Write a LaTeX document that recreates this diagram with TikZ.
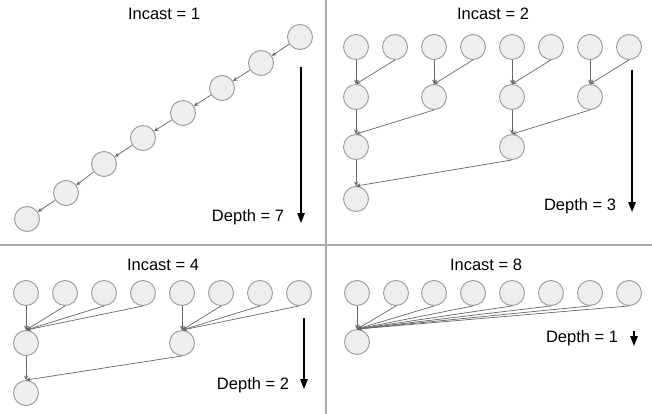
\documentclass[tikz,border=0pt]{standalone}
\usepackage{fontspec}
\setmainfont{Liberation Sans}
\usepackage{xcolor}
\usetikzlibrary{arrows.meta,positioning}

\definecolor{nodefill}{HTML}{EEEEEE}
\definecolor{nodeline}{HTML}{999999}
\definecolor{edgeline}{HTML}{666666}
\definecolor{divline}{HTML}{AAAAAA}

\begin{document}
\begin{tikzpicture}[
      x=1pt, y=-1pt,
      host/.style={circle, draw=nodeline, fill=nodefill, line width=0.9pt,
                   minimum size=25pt, inner sep=0pt},
      edge/.style={-{Stealth[length=4.5pt,width=4pt]}, draw=edgeline, line width=0.7pt},
      depth/.style={-{Triangle[length=10pt,width=7.5pt]}, line width=1.4pt},
      label/.style={font=\fontsize{16.5}{19}\selectfont, inner sep=0pt},
      divider/.style={draw=divline, line width=1.2pt},
    ]
    \useasboundingbox (0,0) rectangle (652,414);

    % quadrant dividers
    \coordinate (vtop) at (326,0);
    \coordinate (vbot) at (326,414);
    \coordinate (hleft) at (0,245);
    \coordinate (hright) at (652,245);
    \draw[divider] (vtop) -- (vbot);
    \draw[divider] (hleft) -- (hright);

    % incast = 1
    \node[label] (title1) at (164,14) {Incast = 1};
    \node[host] (c1) at (300,37) {};
    \node[host] (c2) at (261,63) {};
    \node[host] (c3) at (222,88) {};
    \node[host] (c4) at (183,113) {};
    \node[host] (c5) at (143,138) {};
    \node[host] (c6) at (104,164) {};
    \node[host] (c7) at (66,193) {};
    \node[host] (c8) at (27,219) {};
    \draw[edge] (c1) -- (c2);
    \draw[edge] (c2) -- (c3);
    \draw[edge] (c3) -- (c4);
    \draw[edge] (c4) -- (c5);
    \draw[edge] (c5) -- (c6);
    \draw[edge] (c6) -- (c7);
    \draw[edge] (c7) -- (c8);
    \node[label] (depth1) at (248,217) {Depth = 7};
    \coordinate (d1s) at (301,67);
    \coordinate (d1e) at (301,223);
    \draw[depth] (d1s) -- (d1e);

    % incast = 2
    \node[label] (title2) at (493,14) {Incast = 2};
    \node[host] (pa1) at (356,47) {};
    \node[host] (pa2) at (395,47) {};
    \node[host] (pa3) at (434,47) {};
    \node[host] (pa4) at (473,47) {};
    \node[host] (pa5) at (512,47) {};
    \node[host] (pa6) at (551,47) {};
    \node[host] (pa7) at (590,47) {};
    \node[host] (pa8) at (629,47) {};
    \node[host] (pb1) at (356,97) {};
    \node[host] (pb3) at (434,97) {};
    \node[host] (pb5) at (512,97) {};
    \node[host] (pb7) at (590,97) {};
    \node[host] (pc1) at (356,147) {};
    \node[host] (pc5) at (512,147) {};
    \node[host] (pd1) at (356,199) {};
    \draw[edge] (pa1.south) -- (pb1.north);
    \draw[edge] (pa2.south) -- (pb1.north);
    \draw[edge] (pa3.south) -- (pb3.north);
    \draw[edge] (pa4.south) -- (pb3.north);
    \draw[edge] (pa5.south) -- (pb5.north);
    \draw[edge] (pa6.south) -- (pb5.north);
    \draw[edge] (pa7.south) -- (pb7.north);
    \draw[edge] (pa8.south) -- (pb7.north);
    \draw[edge] (pb1.south) -- (pc1.north);
    \draw[edge] (pb3.south) -- (pc1.north);
    \draw[edge] (pb5.south) -- (pc5.north);
    \draw[edge] (pb7.south) -- (pc5.north);
    \draw[edge] (pc1.south) -- (pd1.north);
    \draw[edge] (pc5.south) -- (pd1.north);
    \node[label] (depth2) at (580,206) {Depth = 3};
    \coordinate (d2s) at (632,70);
    \coordinate (d2e) at (632,212);
    \draw[depth] (d2s) -- (d2e);

    % incast = 4
    \node[label] (title4) at (163,265) {Incast = 4};
    \node[host] (qa1) at (26,293) {};
    \node[host] (qa2) at (65,293) {};
    \node[host] (qa3) at (104,293) {};
    \node[host] (qa4) at (143,293) {};
    \node[host] (qa5) at (182,293) {};
    \node[host] (qa6) at (221,293) {};
    \node[host] (qa7) at (260,293) {};
    \node[host] (qa8) at (299,293) {};
    \node[host] (qb1) at (26,343) {};
    \node[host] (qb5) at (182,343) {};
    \node[host] (qc1) at (26,393) {};
    \draw[edge] (qa1.south) -- (qb1.north);
    \draw[edge] (qa2.south) -- (qb1.north);
    \draw[edge] (qa3.south) -- (qb1.north);
    \draw[edge] (qa4.south) -- (qb1.north);
    \draw[edge] (qa5.south) -- (qb5.north);
    \draw[edge] (qa6.south) -- (qb5.north);
    \draw[edge] (qa7.south) -- (qb5.north);
    \draw[edge] (qa8.south) -- (qb5.north);
    \draw[edge] (qb1.south) -- (qc1.north);
    \draw[edge] (qb5.south) -- (qc1.north);
    \node[label] (depth4) at (253,385) {Depth = 2};
    \coordinate (d4s) at (304,318);
    \coordinate (d4e) at (304,389);
    \draw[depth] (d4s) -- (d4e);

    % incast = 8
    \node[label] (title8) at (486,265) {Incast = 8};
    \node[host] (ra1) at (357,293) {};
    \node[host] (ra2) at (396,293) {};
    \node[host] (ra3) at (434,293) {};
    \node[host] (ra4) at (473,293) {};
    \node[host] (ra5) at (512,293) {};
    \node[host] (ra6) at (551,293) {};
    \node[host] (ra7) at (590,293) {};
    \node[host] (ra8) at (629,293) {};
    \node[host] (rb1) at (357,342) {};
    \draw[edge] (ra1.south) -- (rb1.north);
    \draw[edge] (ra2.south) -- (rb1.north);
    \draw[edge] (ra3.south) -- (rb1.north);
    \draw[edge] (ra4.south) -- (rb1.north);
    \draw[edge] (ra5.south) -- (rb1.north);
    \draw[edge] (ra6.south) -- (rb1.north);
    \draw[edge] (ra7.south) -- (rb1.north);
    \draw[edge] (ra8.south) -- (rb1.north);
    \node[label] (depth8) at (582,338) {Depth = 1};
    \coordinate (d8s) at (634,331);
    \coordinate (d8e) at (634,346);
    \draw[depth] (d8s) -- (d8e);
  \end{tikzpicture}
\end{document}
